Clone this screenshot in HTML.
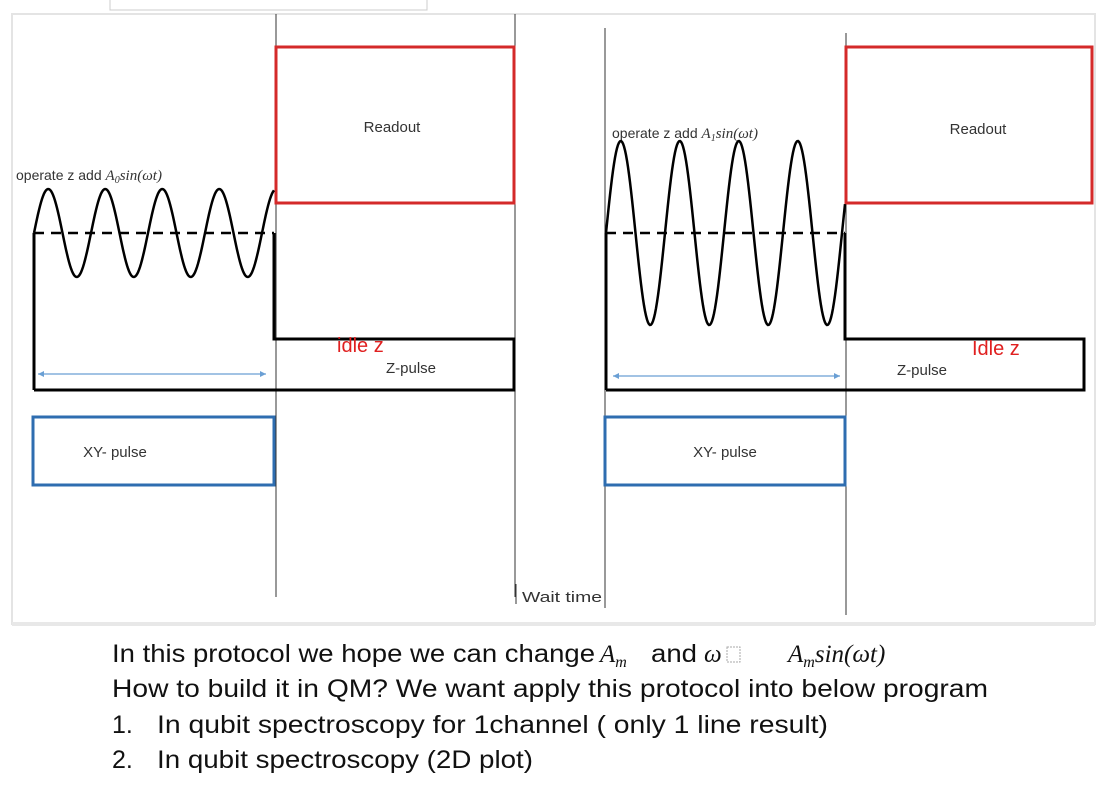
<!DOCTYPE html>
<html><head><meta charset="utf-8"><style>
html,body{margin:0;padding:0;background:#fff;width:1108px;height:796px;overflow:hidden}
svg{display:block}
text{font-family:"Liberation Sans",sans-serif}
.m{font-family:"Liberation Serif",serif;font-style:italic}
</style></head><body>
<svg id="d" width="1108" height="796" viewBox="0 0 1108 796">
<rect x="110" y="-2" width="317" height="12" fill="#fff" stroke="#ccc"/>
<rect x="12" y="14" width="1083" height="610" fill="#fff" stroke="#e4e4e4" stroke-width="2"/>
<rect x="12" y="622" width="1083" height="4" fill="#e8e8e8"/>
<g stroke="#333" stroke-width="1">
<line x1="276" y1="14" x2="276" y2="597"/>
<line x1="515" y1="14" x2="515" y2="597"/>
<line x1="605" y1="28" x2="605" y2="608"/>
<line x1="846" y1="33" x2="846" y2="615"/>
</g>
<g>
<rect x="276" y="47" width="238" height="156" fill="none" stroke="#d42a2a" stroke-width="3"/>
<text x="392" y="132" font-size="15" text-anchor="middle" fill="#333">Readout</text>
<text x="16" y="180" font-size="14" fill="#333">operate z add <tspan class="m" font-size="15">A</tspan><tspan class="m" font-size="10" dy="3">0</tspan><tspan class="m" font-size="15" dy="-3">sin(ωt)</tspan></text>
<path d="M34,390 L34,233 M274,233 L274,339 L514,339 L514,390 L34,390" fill="none" stroke="#000" stroke-width="3"/>
<line x1="34" y1="233" x2="274" y2="233" stroke="#000" stroke-width="2.5" stroke-dasharray="10,7"/>
<path id="sinL" fill="none" stroke="#000" stroke-width="2.5"/>
<line x1="38" y1="374" x2="266" y2="374" stroke="#6a9fd4" stroke-width="1.2"/>
<path d="M38,374 l6,-3 v6z M266,374 l-6,-3 v6z" fill="#6a9fd4"/>
<text x="337" y="352" font-size="20" fill="#e02020">idle z</text>
<text x="411" y="373" font-size="15" text-anchor="middle" fill="#333">Z-pulse</text>
<rect x="33" y="417" width="241" height="68" fill="none" stroke="#2e6db0" stroke-width="3"/>
<text x="115" y="457" font-size="15" text-anchor="middle" fill="#333">XY- pulse</text>
</g>
<line x1="516" y1="584" x2="516" y2="604" stroke="#333"/>
<text x="522" y="602" font-size="15" fill="#333" textLength="80" lengthAdjust="spacingAndGlyphs">Wait time</text>
<g>
<rect x="846" y="47" width="246" height="156" fill="none" stroke="#d42a2a" stroke-width="3"/>
<text x="978" y="134" font-size="15" text-anchor="middle" fill="#333">Readout</text>
<text x="612" y="138" font-size="14" fill="#333">operate z add <tspan class="m" font-size="15">A</tspan><tspan class="m" font-size="10" dy="3">1</tspan><tspan class="m" font-size="15" dy="-3">sin(ωt)</tspan></text>
<path d="M606,390 L606,233 M845,233 L845,339 L1084,339 L1084,390 L606,390" fill="none" stroke="#000" stroke-width="3"/>
<line x1="606" y1="233" x2="845" y2="233" stroke="#000" stroke-width="2.5" stroke-dasharray="10,7"/>
<path id="sinR" fill="none" stroke="#000" stroke-width="2.5"/>
<line x1="613" y1="376" x2="840" y2="376" stroke="#6a9fd4" stroke-width="1.2"/>
<path d="M613,376 l6,-3 v6z M840,376 l-6,-3 v6z" fill="#6a9fd4"/>
<text x="972" y="355" font-size="20" fill="#e02020">Idle z</text>
<text x="922" y="375" font-size="15" text-anchor="middle" fill="#333">Z-pulse</text>
<rect x="605" y="417" width="240" height="68" fill="none" stroke="#2e6db0" stroke-width="3"/>
<text x="725" y="457" font-size="15" text-anchor="middle" fill="#333">XY- pulse</text>
</g>
<g fill="#111" font-size="25">
<text x="112" y="662" textLength="483" lengthAdjust="spacingAndGlyphs">In this protocol we hope we can change</text>
<text x="600" y="662" class="m" font-size="25">A<tspan font-size="16" dy="5">m</tspan></text>
<text x="651" y="662" textLength="46" lengthAdjust="spacingAndGlyphs">and</text>
<text x="704" y="662" class="m">ω</text>
<rect x="727" y="647" width="13" height="15" fill="none" stroke="#aaa" stroke-dasharray="2,1"/>
<text x="788" y="662" class="m">A<tspan font-size="16" dy="5">m</tspan><tspan dy="-5">sin(ωt)</tspan></text>
<text x="112" y="697" textLength="876" lengthAdjust="spacingAndGlyphs">How to build it in QM? We want apply this protocol into below program</text>
<text x="112" y="733">1.</text>
<text x="157" y="733" textLength="671" lengthAdjust="spacingAndGlyphs">In qubit spectroscopy  for 1channel ( only  1 line result)</text>
<text x="112" y="768">2.</text>
<text x="157" y="768" textLength="376" lengthAdjust="spacingAndGlyphs">In qubit spectroscopy (2D plot)</text>
</g>
</svg>
<script>
// sine parameters: start x, end x, baseline y, amplitude, period, phase
const waveStart = [34, 606];
const waveEnd = [274, 845];
const waveBase = [233, 233];
const waveAmp = [44, 92];
const wavePeriod = [57, 59];
const wavePhase = [0.0, 0.0];
['sinL','sinR'].forEach(function(id,i){
  let d='';
  for(let x=waveStart[i]; x<=waveEnd[i]; x+=1){
    const y = waveBase[i] - waveAmp[i]*Math.sin(2*Math.PI*(x-waveStart[i])/wavePeriod[i] + wavePhase[i]);
    d += (d?'L':'M') + x + ',' + y.toFixed(1);
  }
  document.getElementById(id).setAttribute('d', d);
});
</script>
</body></html>
